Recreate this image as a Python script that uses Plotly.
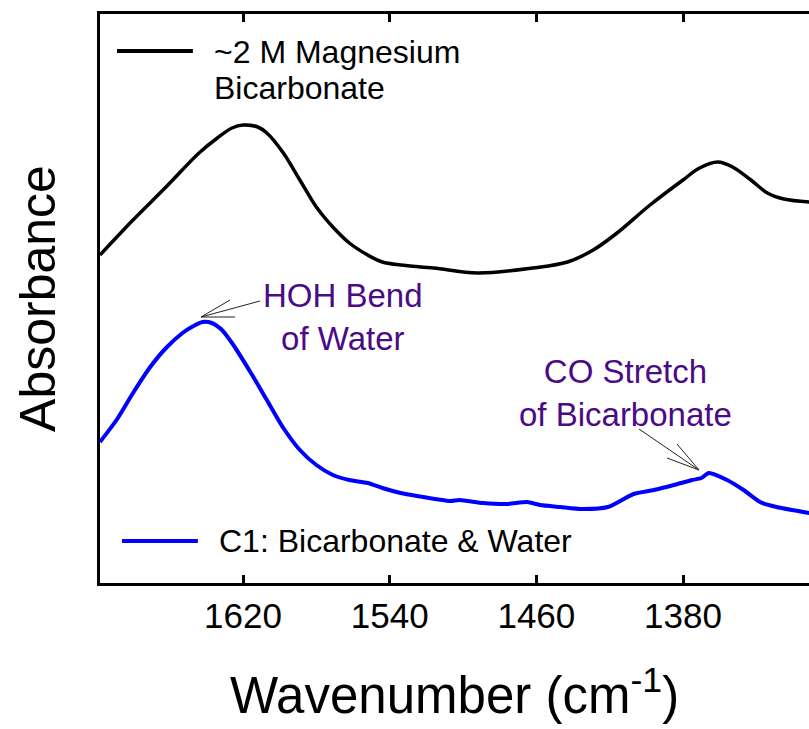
import plotly.graph_objects as go

# Wavenumber (cm-1) and absorbance (arbitrary units)
wn_mg = [1698, 1680, 1662, 1644, 1634, 1626, 1620, 1612, 1607, 1598, 1589, 1580,
         1571, 1562, 1552, 1544, 1534, 1516, 1492, 1462, 1443, 1429, 1416, 1398,
         1380, 1371, 1361, 1353, 1343, 1334, 1325, 1311]
abs_mg = [0.328, 0.363, 0.396, 0.430, 0.445, 0.455, 0.458, 0.456, 0.450, 0.430, 0.403, 0.376,
          0.356, 0.340, 0.328, 0.321, 0.318, 0.315, 0.310, 0.315, 0.321, 0.333, 0.350, 0.378,
          0.403, 0.415, 0.421, 0.416, 0.403, 0.390, 0.384, 0.381]

wn_c1 = [1698, 1689, 1680, 1671, 1662, 1653, 1647, 1642, 1637, 1632, 1626, 1616, 1607,
         1598, 1589, 1580, 1571, 1562, 1552, 1544, 1534, 1525, 1507, 1502, 1489,
         1476, 1465, 1458, 1447, 1435, 1421, 1407, 1396, 1385, 1375, 1370, 1366,
         1356, 1347, 1338, 1329, 1311]
abs_c1 = [0.141, 0.163, 0.190, 0.215, 0.235, 0.250, 0.257, 0.261, 0.260, 0.254, 0.240, 0.211, 0.183,
          0.155, 0.133, 0.118, 0.108, 0.103, 0.100, 0.095, 0.090, 0.087, 0.082, 0.083, 0.080,
          0.079, 0.081, 0.078, 0.076, 0.074, 0.076, 0.089, 0.093, 0.098, 0.103, 0.105, 0.110,
          0.103, 0.093, 0.081, 0.076, 0.070]

x_ticks = [1620, 1540, 1460, 1380]
name_mg = "~2 M Magnesium Bicarbonate"
name_c1 = "C1: Bicarbonate & Water"

FONT = "Liberation Sans, Arial, sans-serif"
PURPLE = "#4B0A86"

fig = go.Figure()
fig.add_trace(go.Scatter(x=wn_mg, y=abs_mg, mode="lines", name=name_mg,
                         line=dict(color="black", width=3.5, shape="spline", smoothing=1.0),
                         showlegend=False))
fig.add_trace(go.Scatter(x=wn_c1, y=abs_c1, mode="lines", name=name_c1,
                         line=dict(color="#0000FF", width=4, shape="spline", smoothing=0.6),
                         showlegend=False))

# custom legend keys
fig.add_shape(type="line", xref="paper", yref="paper", x0=0.024, x1=0.131, y0=0.935, y1=0.935,
              line=dict(color="black", width=4))
fig.add_shape(type="line", xref="paper", yref="paper", x0=0.031, x1=0.138, y0=0.0738, y1=0.0738,
              line=dict(color="#0000FF", width=4))
fig.add_annotation(xref="paper", yref="paper", x=0.158, y=0.933, xanchor="left", yanchor="middle",
                   text="~2 M Magnesium", showarrow=False, font=dict(family=FONT, size=32, color="black"))
fig.add_annotation(xref="paper", yref="paper", x=0.158, y=0.870, xanchor="left", yanchor="middle",
                   text="Bicarbonate", showarrow=False, font=dict(family=FONT, size=32, color="black"))
fig.add_annotation(xref="paper", yref="paper", x=0.165, y=0.0738, xanchor="left", yanchor="middle",
                   text=name_c1, showarrow=False, font=dict(family=FONT, size=32, color="black"))

# peak labels
fig.add_annotation(x=1565.5, y=0.2665, text="HOH Bend<br>of Water", showarrow=False,
                   xanchor="center", yanchor="middle", font=dict(family=FONT, size=33, color=PURPLE))
fig.add_annotation(x=1411.3, y=0.1905, text="CO Stretch<br>of Bicarbonate", showarrow=False,
                   xanchor="center", yanchor="middle", font=dict(family=FONT, size=33, color=PURPLE))

# arrows (shaft + two barbs), anchored at the peak tip, sized in pixels (dy up = positive)
for (tx, ty, segs) in [
    (1642.9, 0.266, [(59, 16), (29, 17), (34, 0)]),
    (1371.3, 0.113, [(-60, 41), (-32, 12), (-22, 26)]),
]:
    for dx, dy in segs:
        fig.add_shape(type="line", xref="x", yref="y",
                      xsizemode="pixel", ysizemode="pixel", xanchor=tx, yanchor=ty,
                      x0=0, y0=0, x1=dx, y1=dy,
                      line=dict(color="#222222", width=1))

fig.update_layout(
    width=809, height=729,
    margin=dict(l=100, r=0, t=14, b=146),
    paper_bgcolor="white", plot_bgcolor="white",
    font=dict(family=FONT, color="black"),
    showlegend=False,
)
fig.update_xaxes(
    range=[1698, 1311.3], tickmode="array", tickvals=x_ticks,
    ticks="inside", ticklen=8, tickwidth=3, tickcolor="black",
    showline=True, linewidth=3, linecolor="black", mirror="ticks",
    showgrid=False, zeroline=False,
    tickfont=dict(family=FONT, size=35, color="black"), ticklabelstandoff=0,
    title=dict(text="Wavenumber (cm<sup>-1</sup>)", font=dict(family=FONT, size=51, color="black"),
               standoff=44),
)
fig.update_yaxes(
    range=[0, 0.569], showticklabels=False, ticks="",
    showline=True, linewidth=3, linecolor="black", mirror=False,
    showgrid=False, zeroline=False,
    title=dict(text="Absorbance", font=dict(family=FONT, size=50, color="black"), standoff=26),
)

fig.write_html("out.html")
